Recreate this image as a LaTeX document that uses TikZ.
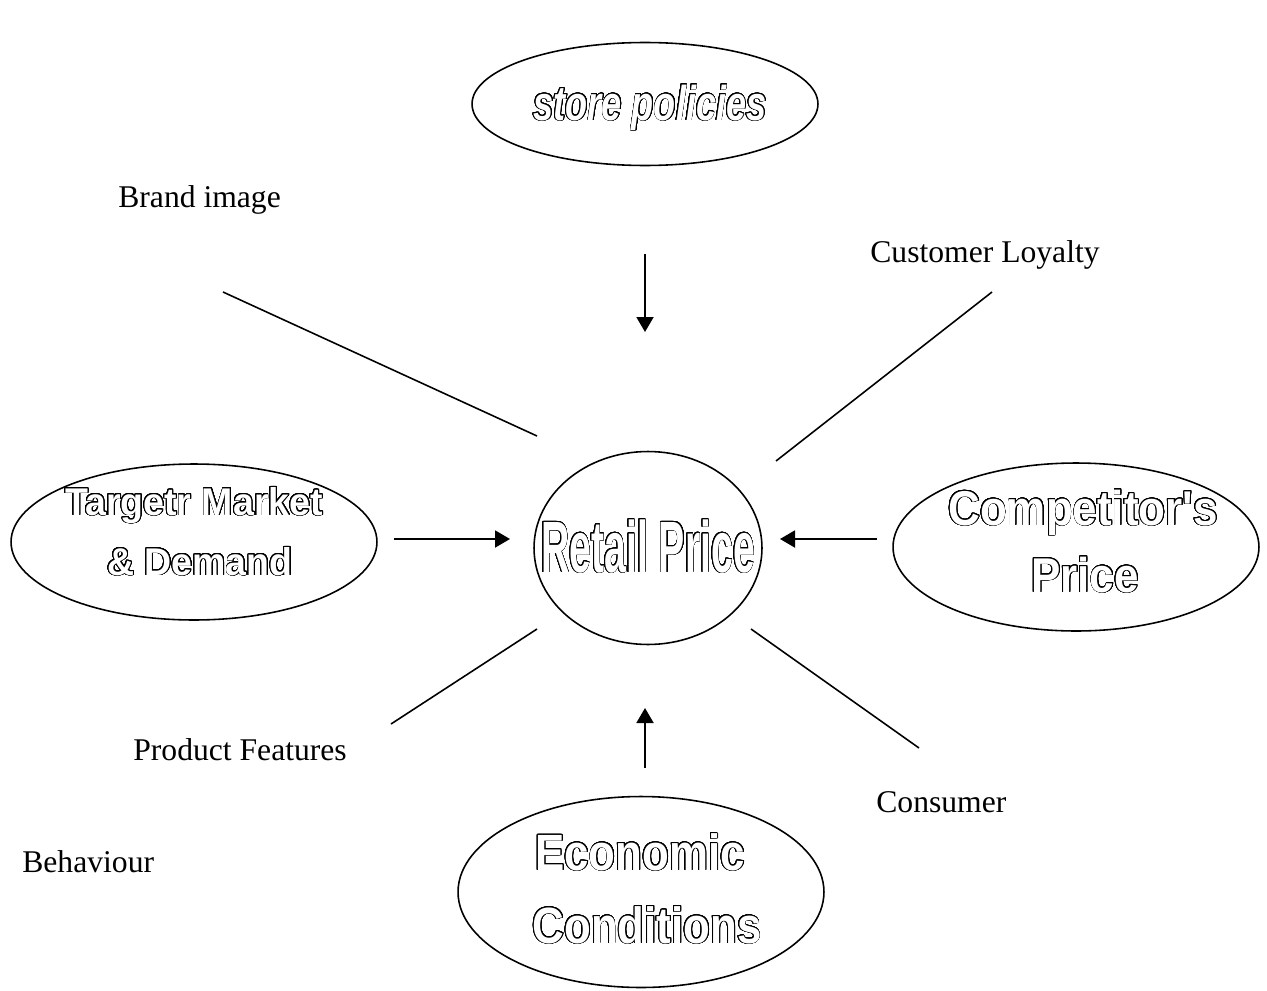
\documentclass[tikz,border=0pt]{standalone}
\usepackage{fontspec}
\usepackage{graphicx}
\usepackage{contour}
\usetikzlibrary{shapes.geometric,arrows.meta}
\setmainfont{Liberation Serif}
\newfontfamily\artfont{Liberation Sans}
\contourlength{0.55pt}
\contournumber{32}
\newcommand{\outl}[3]{\scalebox{#1}[1]{\contour{black}{\textcolor{white}{\artfont\bfseries\fontsize{#2}{#2}\selectfont #3}}}}
\newcommand{\outli}[3]{\scalebox{#1}[1]{\contour{black}{\textcolor{white}{\artfont\bfseries\itshape\fontsize{#2}{#2}\selectfont #3}}}}
\tikzset{
  oval/.style={draw, ellipse, line width=0.9pt, inner sep=0pt},
  conn/.style={line width=0.9pt},
  arr/.style={line width=1.1pt, -{Triangle[length=0.3cm,width=0.34cm]}},
  plain/.style={font=\fontsize{18}{18}\selectfont, inner sep=0pt, anchor=base west},
  art/.style={inner sep=0pt, anchor=base},
}
\begin{document}
\begin{tikzpicture}[x=0.02cm,y=-0.02cm]
\useasboundingbox (0,0) rectangle (1267,990);
% ellipses
\node[oval, minimum width=6.92cm, minimum height=2.46cm] (store) at (645,104) {};
\node[oval, minimum width=7.32cm, minimum height=3.12cm] (target) at (194,542) {};
\node[oval, minimum width=4.56cm, minimum height=3.86cm] (retail) at (648,548) {};
\node[oval, minimum width=7.32cm, minimum height=3.36cm] (comp) at (1076,547) {};
\node[oval, minimum width=7.32cm, minimum height=3.82cm] (econ) at (641,892) {};
% outlined texts
\node[art] (tstore) at (650,120) {\outli{0.74}{27.8}{store policies}};
\node[art] (tretail) at (648,572) {\outl{0.54}{41.4}{Retail Price}};
\node[art] (ttarget1) at (194,515) {\outl{0.97}{22}{Targetr Market}};
\node[art] (ttarget2) at (200,575) {\outl{0.97}{22}{\& Demand}};
\node[art] (tcomp1) at (1083,525) {\outl{0.9}{27.8}{Competitor's}};
\node[art] (tcomp2) at (1085,592) {\outl{0.9}{27.8}{Price}};
\node[art] (tecon1) at (640,870) {\outl{0.86}{29}{Economic}};
\node[art] (tecon2) at (647,943) {\outl{0.86}{29}{Conditions}};
% plain texts
\node[plain] (brand) at (118,207) {Brand image};
\node[plain] (loyal) at (870,262) {Customer Loyalty};
\node[plain] (prod) at (133,760) {Product Features};
\node[plain] (cons) at (876,812) {Consumer};
\node[plain] (behav) at (22,872) {Behaviour};
% free ends
\coordinate (l1a) at (223,292); \coordinate (l1b) at (537,436);
\coordinate (l2a) at (992,292); \coordinate (l2b) at (776,461);
\coordinate (l3a) at (391,724); \coordinate (l3b) at (537,629);
\coordinate (l4a) at (751,629); \coordinate (l4b) at (919,748);
\coordinate (a1a) at (645,254); \coordinate (a1b) at (645,332);
\coordinate (a2a) at (394,539); \coordinate (a2b) at (510,539);
\coordinate (a3a) at (877,539); \coordinate (a3b) at (780,539);
\coordinate (a4a) at (645,768); \coordinate (a4b) at (645,708);
\draw[conn] (l1a) -- (l1b);
\draw[conn] (l2a) -- (l2b);
\draw[conn] (l3a) -- (l3b);
\draw[conn] (l4a) -- (l4b);
\draw[arr] (a1a) -- (a1b);
\draw[arr] (a2a) -- (a2b);
\draw[arr] (a3a) -- (a3b);
\draw[arr] (a4a) -- (a4b);
\end{tikzpicture}
\end{document}
